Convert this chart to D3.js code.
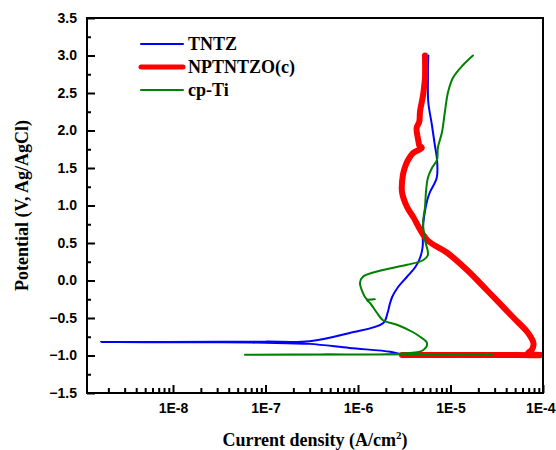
<!DOCTYPE html>
<html lang="en">
<head>
    <meta charset="UTF-8">
    <title>Polarization curves</title>
    <script src="https://cdn.jsdelivr.net/npm/d3@7"></script>
    <style>
        body{margin: 0; background: #fff}
        svg text{fill: #000}
        .tick text{font-family: "Liberation Sans", Arial, sans-serif; font-weight: bold; font-size: 14px}
        .tick line{stroke: #000; stroke-width: 2}
        .curve{fill: none; stroke-linejoin: round; stroke-linecap: round}
        .title{font-family: "Liberation Serif", "Times New Roman", serif; font-weight: bold; font-size: 18px}
    </style>
</head>
<body>
    <svg></svg>
    <script>
        // TNTZ (blue)
        var tntzCurrent = [2.82e-6, 2.24e-6, 8.1e-7, 3.0e-7, 1.0e-7, 3.2e-8, 1.66e-9, 3.2e-8, 1.0e-7, 3.0e-7,
            8.1e-7, 1.86e-6, 2.09e-6, 2.19e-6, 2.34e-6, 2.7e-6, 3.39e-6, 4.17e-6, 4.68e-6, 5.0e-6,
            5.0e-6, 5.25e-6, 5.6e-6, 6.0e-6, 7.1e-6, 7.15e-6, 6.76e-6, 6.3e-6, 5.75e-6, 5.7e-6, 5.75e-6]
        var tntzPotential = [-0.98, -0.95, -0.90, -0.845, -0.83, -0.825, -0.82, -0.818, -0.815, -0.81,
            -0.70, -0.57, -0.43, -0.33, -0.22, -0.09, 0.05, 0.18, 0.30, 0.45,
            0.67, 0.90, 1.07, 1.18, 1.37, 1.61, 1.81, 2.07, 2.38, 2.70, 3.0]

        // NPTNTZO(c) (red)
        var nptCurrent = [2.99e-6, 3.16e-5, 9.5e-5, 6.8e-5, 7.6e-5, 7.9e-5, 6.9e-5, 4.74e-5, 2.48e-5, 1.51e-5,
            9.2e-6, 5.6e-6, 3.94e-6, 3.39e-6, 2.99e-6, 3.06e-6, 3.2e-6, 3.39e-6, 3.94e-6, 4.9e-6, 4.6e-6,
            4.5e-6, 4.3e-6, 4.6e-6, 4.68e-6, 5.05e-6, 5.2e-6, 5.3e-6, 5.3e-6]
        var nptPotential = [-0.993, -0.993, -0.993, -0.975, -0.92, -0.84, -0.70, -0.49, -0.13, 0.14,
            0.37, 0.54, 0.85, 0.98, 1.18, 1.41, 1.50, 1.58, 1.70, 1.77, 1.80,
            1.86, 2.03, 2.12, 2.25, 2.47, 2.60, 2.70, 3.0]

        // cp-Ti (green)
        var tiCurrent = [2.88e-5, 6.0e-8, 3.9e-7, 2.84e-6, 5.05e-6, 5.57e-6, 4.68e-6, 3.94e-6, 2.64e-6, 1.86e-6,
            1.6e-6, 1.35e-6, 1.25e-6, 1.52e-6, 1.25e-6, 1.1e-6, 1.05e-6, 1.13e-6, 1.86e-6, 3.39e-6,
            5.05e-6, 5.7e-6, 5.3e-6, 5.05e-6, 5.3e-6, 5.43e-6, 5.7e-6, 6.3e-6, 7.15e-6, 7.3e-6,
            8.1e-6, 8.7e-6, 9.4e-6, 1.06e-5, 1.36e-5, 1.75e-5]
        var tiPotential = [-0.98, -0.99, -0.985, -0.975, -0.93, -0.835, -0.75, -0.69, -0.59, -0.53,
            -0.43, -0.30, -0.26, -0.25, -0.25, -0.13, -0.03, 0.05, 0.14, 0.21,
            0.27, 0.34, 0.54, 0.77, 0.98, 1.18, 1.37, 1.50, 1.61, 1.77,
            1.98, 2.25, 2.51, 2.70, 2.87, 3.0]

        var seriesNames = ['TNTZ', 'NPTNTZO(c)', 'cp-Ti']
        var xTicks = [1e-8, 1e-7, 1e-6, 1e-5, 1e-4]
        var xTickLabels = ['1E-8', '1E-7', '1E-6', '1E-5', '1E-4']
        var yTicks = [-1.5, -1.0, -0.5, 0.0, 0.5, 1.0, 1.5, 2.0, 2.5, 3.0, 3.5]

        function render() {
            var width = 556, height = 450
            var plot = {left: 87, right: 543, top: 18, bottom: 393}

            var svg = d3.select('svg')
                .attr('width', width)
                .attr('height', height)

            var xScale = d3.scaleLog()
                .domain([Math.pow(10, -8.93), 1e-4])
                .range([plot.left, plot.right])
            var yScale = d3.scaleLinear()
                .domain([-1.5, 3.5])
                .range([plot.bottom, plot.top])

            // minor ticks
            var xMinor = []
            for (var e = -9; e < -4; e++) {
                for (var m = 2; m < 10; m++) {
                    var v = m * Math.pow(10, e)
                    if (v > xScale.domain()[0]) xMinor.push(v)
                }
            }
            var yMinor = d3.range(-1.25, 3.5, 0.5)

            svg.append('g')
                .attr('transform', `translate(0, ${plot.bottom})`)
                .call(d3.axisBottom(xScale).tickValues(xMinor).tickSize(-5).tickFormat(''))
                .select('.domain').remove()
            var xAxisG = svg.append('g')
                .attr('transform', `translate(0, ${plot.bottom})`)
                .call(d3.axisBottom(xScale).tickValues(xTicks).tickSize(-8).tickPadding(10)
                    .tickFormat((d, i) => xTickLabels[i]))
            xAxisG.select('.domain').remove()
            // last label sits at the page edge, keep it inside
            xAxisG.selectAll('.tick text')
                .filter(d => d === 1e-4)
                .attr('text-anchor', 'end')
                .attr('x', width - 1 - plot.right)

            svg.append('g')
                .attr('transform', `translate(${plot.left}, 0)`)
                .call(d3.axisLeft(yScale).tickValues(yMinor).tickSize(-4).tickFormat(''))
                .select('.domain').remove()
            svg.append('g')
                .attr('transform', `translate(${plot.left}, 0)`)
                .call(d3.axisLeft(yScale).tickValues(yTicks).tickSize(-8).tickPadding(10)
                    .tickFormat(d3.format('.1f')))
                .select('.domain').remove()

            svg.selectAll('.tick text').attr('fill', '#000')

            // curves
            var line = d3.line()
                .x(d => xScale(d[0]))
                .y(d => yScale(d[1]))
                .curve(d3.curveCatmullRom.alpha(0.5))

            var series = [
                {cur: tntzCurrent, pot: tntzPotential, color: '#0000ff', w: 2},
                {cur: nptCurrent, pot: nptPotential, color: '#ff0000', w: 6},
                {cur: tiCurrent, pot: tiPotential, color: '#008000', w: 2}
            ]
            series.forEach(s => {
                svg.append('path')
                    .datum(d3.zip(s.cur, s.pot))
                    .attr('class', 'curve')
                    .attr('stroke', s.color)
                    .attr('stroke-width', s.w)
                    .attr('d', line)
            })

            // frame
            svg.append('rect')
                .attr('x', plot.left)
                .attr('y', plot.top)
                .attr('width', plot.right - plot.left)
                .attr('height', plot.bottom - plot.top)
                .attr('fill', 'none')
                .attr('stroke', '#000')
                .attr('stroke-width', 2)

            // legend
            var legendColors = ['#0000ff', '#ff0000', '#008000']
            var legendWidths = [2, 5, 2]
            var legendY = [44, 67, 90]
            var legend = svg.append('g')
            seriesNames.forEach((name, i) => {
                legend.append('line')
                    .attr('x1', 141).attr('x2', 183)
                    .attr('y1', legendY[i]).attr('y2', legendY[i])
                    .attr('stroke', legendColors[i])
                    .attr('stroke-width', legendWidths[i])
                    .attr('stroke-linecap', 'round')
                legend.append('text')
                    .attr('class', 'title')
                    .attr('x', 188)
                    .attr('y', legendY[i])
                    .attr('dy', '0.36em')
                    .text(name)
            })

            // axis titles
            var xt = svg.append('text')
                .attr('class', 'title')
                .attr('x', (plot.left + plot.right) / 2)
                .attr('y', 446)
                .attr('text-anchor', 'middle')
            xt.append('tspan').text('Current density (A/cm')
            xt.append('tspan').attr('dy', -7).attr('font-size', 11).text('2')
            xt.append('tspan').attr('dy', 7).text(')')

            svg.append('text')
                .attr('class', 'title')
                .attr('transform', `translate(28, ${(plot.top + plot.bottom) / 2}) rotate(-90)`)
                .attr('text-anchor', 'middle')
                .text('Potential (V, Ag/AgCl)')
        }

        render()
    </script>
</body>
</html>
